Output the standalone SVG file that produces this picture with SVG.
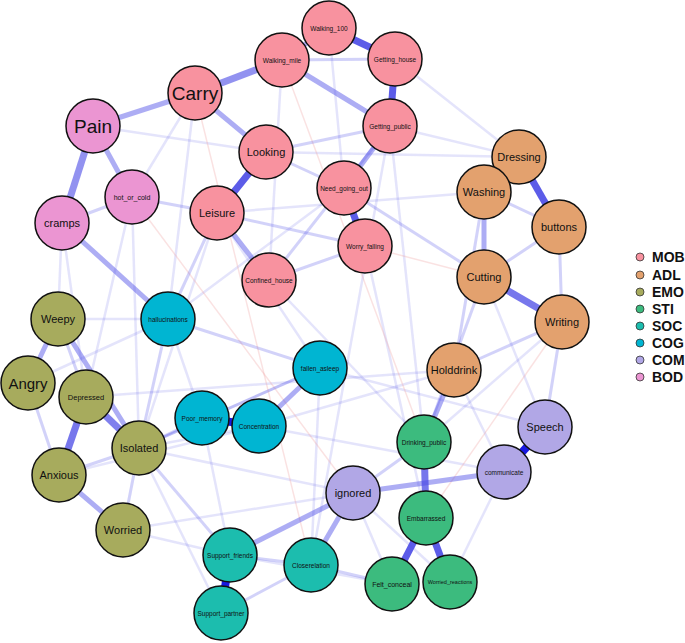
<svg xmlns="http://www.w3.org/2000/svg" width="685" height="643" viewBox="0 0 685 643">
<style>
.n{stroke:#111;stroke-width:1.5}
.MOB{fill:#F8929F}.ADL{fill:#E3A16E}.EMO{fill:#A7AB5D}.STI{fill:#3CBB7E}.SOC{fill:#1CBDAE}.COG{fill:#00B5D2}.COM{fill:#B1A7E6}.BOD{fill:#EB95D2}
text{font-family:"Liberation Sans",Arial,sans-serif;text-anchor:middle;dominant-baseline:central;fill:#111}
.s{font-size:6.5px}.m{font-size:11px}.l{font-size:15px}.xl{font-size:19px}
.e line{stroke:#4a4ae6;stroke-linecap:butt}
.f{stroke-opacity:0.15;stroke-width:2.5}
.g{stroke-opacity:0.25;stroke-width:3}
.h{stroke-opacity:0.45;stroke-width:5}
.k{stroke-opacity:0.9;stroke-width:7}
.d{stroke:#0000dd !important;stroke-width:8}
.r{stroke:#f0a0a0 !important;stroke-opacity:0.3;stroke-width:1.5}
.lg{font-size:14px;font-weight:bold;text-anchor:start}
</style>
<g class="e" id="edges">
<line class="f" x1="282" y1="60" x2="269" y2="280"/>
<line class="f" x1="329" y1="28" x2="344" y2="188"/>
<line class="f" x1="395" y1="59" x2="519" y2="157"/>
<line class="f" x1="390" y1="126" x2="519" y2="157"/>
<line class="f" x1="266" y1="152" x2="519" y2="157"/>
<line class="f" x1="217" y1="213" x2="484" y2="192"/>
<line class="f" x1="390" y1="126" x2="424" y2="442"/>
<line class="f" x1="390" y1="126" x2="311" y2="565"/>
<line class="f" x1="195" y1="93" x2="132" y2="197"/>
<line class="f" x1="195" y1="93" x2="168" y2="319"/>
<line class="f" x1="93" y1="126" x2="266" y2="152"/>
<line class="f" x1="62" y1="223" x2="58" y2="319"/>
<line class="f" x1="62" y1="223" x2="86" y2="397"/>
<line class="f" x1="132" y1="197" x2="86" y2="397"/>
<line class="f" x1="132" y1="197" x2="139" y2="448"/>
<line class="f" x1="217" y1="213" x2="139" y2="448"/>
<line class="f" x1="168" y1="319" x2="58" y2="319"/>
<line class="f" x1="168" y1="319" x2="28" y2="383"/>
<line class="f" x1="168" y1="319" x2="202" y2="418"/>
<line class="f" x1="139" y1="448" x2="320" y2="368"/>
<line class="f" x1="139" y1="448" x2="259" y2="426"/>
<line class="f" x1="139" y1="448" x2="353" y2="493"/>
<line class="f" x1="123" y1="530" x2="353" y2="493"/>
<line class="f" x1="59" y1="475" x2="259" y2="426"/>
<line class="f" x1="202" y1="418" x2="230" y2="555"/>
<line class="f" x1="259" y1="426" x2="504" y2="472"/>
<line class="f" x1="320" y1="368" x2="311" y2="565"/>
<line class="f" x1="320" y1="368" x2="545" y2="427"/>
<line class="f" x1="86" y1="397" x2="454" y2="370"/>
<line class="f" x1="454" y1="370" x2="504" y2="472"/>
<line class="f" x1="454" y1="370" x2="259" y2="426"/>
<line class="f" x1="484" y1="277" x2="545" y2="427"/>
<line class="f" x1="562" y1="322" x2="424" y2="442"/>
<line class="f" x1="504" y1="472" x2="450" y2="582"/>
<line class="f" x1="365" y1="246" x2="426" y2="518"/>
<line class="f" x1="344" y1="188" x2="168" y2="319"/>
<line class="f" x1="269" y1="280" x2="424" y2="442"/>
<line class="f" x1="217" y1="213" x2="320" y2="368"/>
<line class="f" x1="353" y1="493" x2="392" y2="584"/>
<line class="f" x1="353" y1="493" x2="450" y2="582"/>
<line class="f" x1="230" y1="555" x2="392" y2="584"/>
<line class="f" x1="139" y1="448" x2="221" y2="613"/>
<line class="f" x1="123" y1="530" x2="230" y2="555"/>
<line class="r" x1="195" y1="93" x2="311" y2="565"/>
<line class="r" x1="132" y1="197" x2="353" y2="493"/>
<line class="r" x1="282" y1="60" x2="424" y2="442"/>
<line class="r" x1="562" y1="322" x2="426" y2="518"/>
<line class="r" x1="484" y1="277" x2="365" y2="246"/>
<line class="g" x1="282" y1="60" x2="395" y2="59"/>
<line class="g" x1="266" y1="152" x2="344" y2="188"/>
<line class="g" x1="266" y1="152" x2="390" y2="126"/>
<line class="g" x1="217" y1="213" x2="365" y2="246"/>
<line class="g" x1="269" y1="280" x2="390" y2="126"/>
<line class="g" x1="269" y1="280" x2="365" y2="246"/>
<line class="g" x1="344" y1="188" x2="484" y2="277"/>
<line class="g" x1="132" y1="197" x2="217" y2="213"/>
<line class="g" x1="62" y1="223" x2="132" y2="197"/>
<line class="g" x1="168" y1="319" x2="320" y2="368"/>
<line class="g" x1="168" y1="319" x2="139" y2="448"/>
<line class="g" x1="217" y1="213" x2="168" y2="319"/>
<line class="g" x1="320" y1="368" x2="139" y2="448"/>
<line class="g" x1="58" y1="319" x2="86" y2="397"/>
<line class="g" x1="28" y1="383" x2="59" y2="475"/>
<line class="g" x1="59" y1="475" x2="139" y2="448"/>
<line class="g" x1="139" y1="448" x2="123" y2="530"/>
<line class="g" x1="139" y1="448" x2="230" y2="555"/>
<line class="g" x1="202" y1="418" x2="139" y2="448"/>
<line class="g" x1="230" y1="555" x2="311" y2="565"/>
<line class="g" x1="221" y1="613" x2="311" y2="565"/>
<line class="g" x1="311" y1="565" x2="392" y2="584"/>
<line class="g" x1="353" y1="493" x2="424" y2="442"/>
<line class="g" x1="484" y1="192" x2="559" y2="227"/>
<line class="g" x1="559" y1="227" x2="484" y2="277"/>
<line class="g" x1="559" y1="227" x2="562" y2="322"/>
<line class="g" x1="484" y1="192" x2="454" y2="370"/>
<line class="g" x1="484" y1="277" x2="424" y2="442"/>
<line class="g" x1="562" y1="322" x2="545" y2="427"/>
<line class="g" x1="562" y1="322" x2="454" y2="370"/>
<line class="h" x1="329" y1="28" x2="282" y2="60"/>
<line class="h" x1="282" y1="60" x2="390" y2="126"/>
<line class="h" x1="195" y1="93" x2="266" y2="152"/>
<line class="h" x1="93" y1="126" x2="195" y2="93"/>
<line class="h" x1="93" y1="126" x2="132" y2="197"/>
<line class="h" x1="217" y1="213" x2="269" y2="280"/>
<line class="h" x1="390" y1="126" x2="344" y2="188"/>
<line class="h" x1="62" y1="223" x2="168" y2="319"/>
<line class="h" x1="58" y1="319" x2="28" y2="383"/>
<line class="h" x1="58" y1="319" x2="139" y2="448"/>
<line class="h" x1="59" y1="475" x2="123" y2="530"/>
<line class="h" x1="320" y1="368" x2="259" y2="426"/>
<line class="h" x1="230" y1="555" x2="353" y2="493"/>
<line class="h" x1="311" y1="565" x2="353" y2="493"/>
<line class="h" x1="353" y1="493" x2="504" y2="472"/>
<line class="h" x1="454" y1="370" x2="424" y2="442"/>
<line class="h" x1="484" y1="192" x2="484" y2="277"/>
<line class="h" x1="519" y1="157" x2="484" y2="192"/>
<line class="k" x1="195" y1="93" x2="282" y2="60" style="stroke-opacity:0.6"/>
<line class="k" x1="93" y1="126" x2="62" y2="223" style="stroke-opacity:0.6"/>
<line class="k" x1="266" y1="152" x2="217" y2="213"/>
<line class="k" x1="329" y1="28" x2="395" y2="59"/>
<line class="k" x1="395" y1="59" x2="390" y2="126"/>
<line class="k" x1="344" y1="188" x2="365" y2="246"/>
<line class="k" x1="519" y1="157" x2="559" y2="227"/>
<line class="k" x1="484" y1="277" x2="562" y2="322" style="stroke-opacity:0.75"/>
<line class="k" x1="86" y1="397" x2="59" y2="475" style="stroke-opacity:0.75"/>
<line class="k" x1="86" y1="397" x2="139" y2="448" style="stroke-opacity:0.7"/>
<line class="k" x1="424" y1="442" x2="426" y2="518" style="stroke-opacity:0.75"/>
<line class="k" x1="426" y1="518" x2="392" y2="584"/>
<line class="k" x1="426" y1="518" x2="450" y2="582"/>
<line class="k d" x1="202" y1="418" x2="259" y2="426"/>
<line class="k d" x1="545" y1="427" x2="504" y2="472"/>
<line class="k d" x1="230" y1="555" x2="221" y2="613"/>
</g>
<g id="Walking_100"><circle class="n MOB" cx="329" cy="28" r="27"/><text class="s" x="329" y="28">Walking_100</text></g>
<g id="Walking_mile"><circle class="n MOB" cx="282" cy="60" r="27"/><text class="s" x="282" y="60">Walking_mile</text></g>
<g id="Getting_house"><circle class="n MOB" cx="395" cy="59" r="27"/><text class="s" x="395" y="59">Getting_house</text></g>
<g id="Carry"><circle class="n MOB" cx="195" cy="93" r="27"/><text class="xl" x="195" y="93">Carry</text></g>
<g id="Getting_public"><circle class="n MOB" cx="390" cy="126" r="27"/><text class="s" x="390" y="126">Getting_public</text></g>
<g id="Pain"><circle class="n BOD" cx="93" cy="126" r="27"/><text class="xl" x="93" y="126">Pain</text></g>
<g id="Looking"><circle class="n MOB" cx="266" cy="152" r="27"/><text class="m" x="266" y="152">Looking</text></g>
<g id="Need_going_out"><circle class="n MOB" cx="344" cy="188" r="27"/><text class="s" x="344" y="188">Need_going_out</text></g>
<g id="Dressing"><circle class="n ADL" cx="519" cy="157" r="27"/><text class="m" x="519" y="157">Dressing</text></g>
<g id="Washing"><circle class="n ADL" cx="484" cy="192" r="27"/><text class="m" x="484" y="192">Washing</text></g>
<g id="hot_or_cold"><circle class="n BOD" cx="132" cy="197" r="27"/><text class="s" x="132" y="197" style="font-size:7px">hot_or_cold</text></g>
<g id="cramps"><circle class="n BOD" cx="62" cy="223" r="27"/><text class="m" x="62" y="223">cramps</text></g>
<g id="Leisure"><circle class="n MOB" cx="217" cy="213" r="27"/><text class="m" x="217" y="213">Leisure</text></g>
<g id="buttons"><circle class="n ADL" cx="559" cy="227" r="27"/><text class="m" x="559" y="227">buttons</text></g>
<g id="Worry_falling"><circle class="n MOB" cx="365" cy="246" r="27"/><text class="s" x="365" y="246">Worry_falling</text></g>
<g id="Confined_house"><circle class="n MOB" cx="269" cy="280" r="27"/><text class="s" x="269" y="280">Confined_house</text></g>
<g id="Cutting"><circle class="n ADL" cx="484" cy="277" r="27"/><text class="m" x="484" y="277">Cutting</text></g>
<g id="Writing"><circle class="n ADL" cx="562" cy="322" r="27"/><text class="m" x="562" y="322">Writing</text></g>
<g id="Weepy"><circle class="n EMO" cx="58" cy="319" r="27"/><text class="m" x="58" y="319">Weepy</text></g>
<g id="hallucinations"><circle class="n COG" cx="168" cy="319" r="27"/><text class="s" x="168" y="319">hallucinations</text></g>
<g id="fallen_asleep"><circle class="n COG" cx="320" cy="368" r="27"/><text class="s" x="320" y="368">fallen_asleep</text></g>
<g id="Holddrink"><circle class="n ADL" cx="454" cy="370" r="27"/><text class="m" x="454" y="370">Holddrink</text></g>
<g id="Angry"><circle class="n EMO" cx="28" cy="383" r="27"/><text class="l" x="28" y="383">Angry</text></g>
<g id="Depressed"><circle class="n EMO" cx="86" cy="397" r="27"/><text class="s" x="86" y="397" style="font-size:7.5px">Depressed</text></g>
<g id="Poor_memory"><circle class="n COG" cx="202" cy="418" r="27"/><text class="s" x="202" y="418">Poor_memory</text></g>
<g id="Concentration"><circle class="n COG" cx="259" cy="426" r="27"/><text class="s" x="259" y="426">Concentration</text></g>
<g id="Speech"><circle class="n COM" cx="545" cy="427" r="27"/><text class="m" x="545" y="427">Speech</text></g>
<g id="Isolated"><circle class="n EMO" cx="139" cy="448" r="27"/><text class="m" x="139" y="448">Isolated</text></g>
<g id="Drinking_public"><circle class="n STI" cx="424" cy="442" r="27"/><text class="s" x="424" y="442">Drinking_public</text></g>
<g id="Anxious"><circle class="n EMO" cx="59" cy="475" r="27"/><text class="m" x="59" y="475">Anxious</text></g>
<g id="communicate"><circle class="n COM" cx="504" cy="472" r="27"/><text class="s" x="504" y="472">communicate</text></g>
<g id="ignored"><circle class="n COM" cx="353" cy="493" r="27"/><text class="m" x="353" y="493">ignored</text></g>
<g id="Embarrassed"><circle class="n STI" cx="426" cy="518" r="27"/><text class="s" x="426" y="518">Embarrassed</text></g>
<g id="Worried"><circle class="n EMO" cx="123" cy="530" r="27"/><text class="m" x="123" y="530">Worried</text></g>
<g id="Support_friends"><circle class="n SOC" cx="230" cy="555" r="27"/><text class="s" x="230" y="555">Support_friends</text></g>
<g id="Closerelation"><circle class="n SOC" cx="311" cy="565" r="27"/><text class="s" x="311" y="565">Closerelation</text></g>
<g id="Felt_conceal"><circle class="n STI" cx="392" cy="584" r="27"/><text class="s" x="392" y="584" style="font-size:7px">Felt_conceal</text></g>
<g id="Worried_reactions"><circle class="n STI" cx="450" cy="582" r="27"/><text class="s" x="450" y="582" style="font-size:5.5px">Worried_reactions</text></g>
<g id="Support_partner"><circle class="n SOC" cx="221" cy="613" r="27"/><text class="s" x="221" y="613">Support_partner</text></g>
<g id="legend">
<circle class="MOB" cx="640" cy="257" r="4" stroke="#333" stroke-width="0.8"/><text class="lg" x="652" y="257">MOB</text>
<circle class="ADL" cx="640" cy="275" r="4" stroke="#333" stroke-width="0.8"/><text class="lg" x="652" y="275">ADL</text>
<circle class="EMO" cx="640" cy="292" r="4" stroke="#333" stroke-width="0.8"/><text class="lg" x="652" y="292">EMO</text>
<circle class="STI" cx="640" cy="309" r="4" stroke="#333" stroke-width="0.8"/><text class="lg" x="652" y="309">STI</text>
<circle class="SOC" cx="640" cy="326" r="4" stroke="#333" stroke-width="0.8"/><text class="lg" x="652" y="326">SOC</text>
<circle class="COG" cx="640" cy="343" r="4" stroke="#333" stroke-width="0.8"/><text class="lg" x="652" y="343">COG</text>
<circle class="COM" cx="640" cy="360" r="4" stroke="#333" stroke-width="0.8"/><text class="lg" x="652" y="360">COM</text>
<circle class="BOD" cx="640" cy="377" r="4" stroke="#333" stroke-width="0.8"/><text class="lg" x="652" y="377">BOD</text>
</g>
</svg>
